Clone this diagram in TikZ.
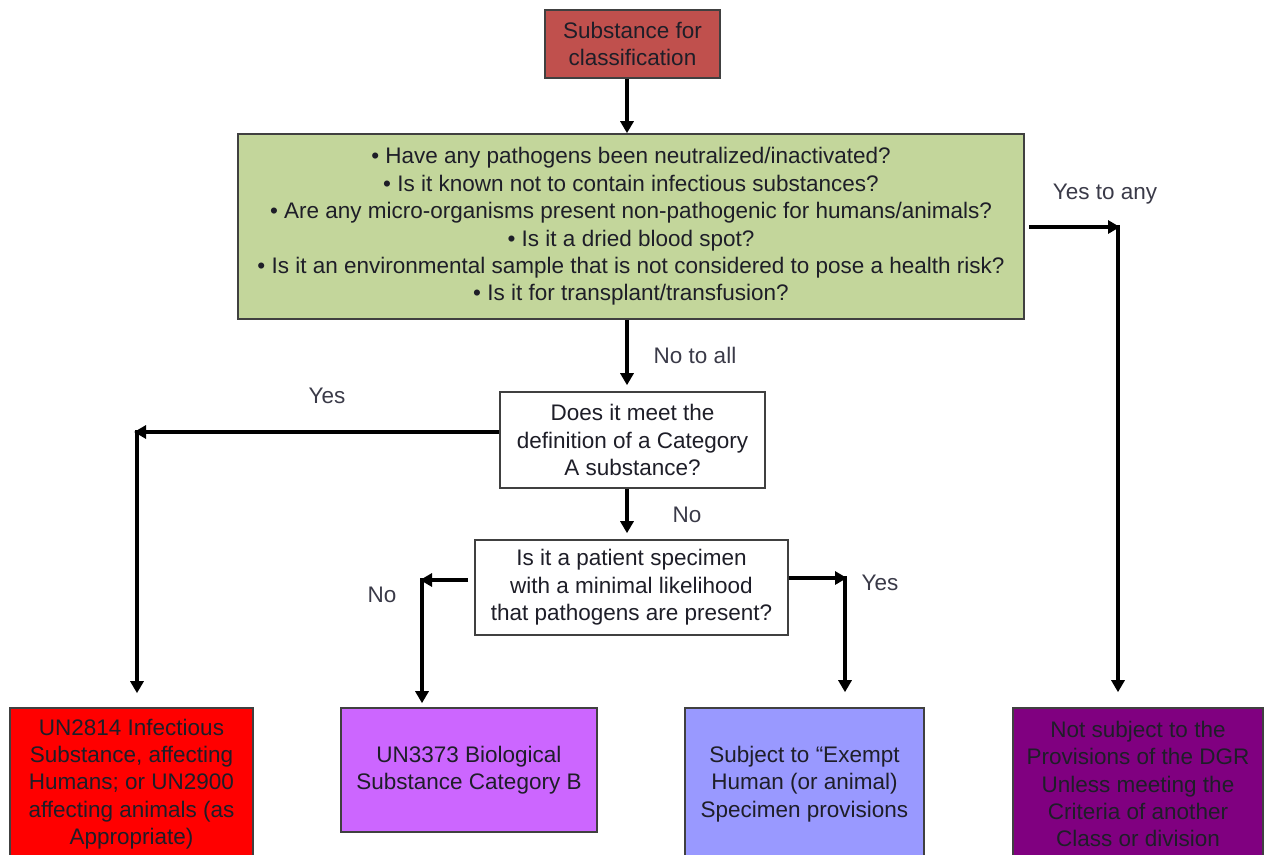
\documentclass[tikz,border=0pt]{standalone}
\usepackage{fontspec}
\setmainfont{Liberation Sans}
\usetikzlibrary{arrows.meta,calc}
\definecolor{topred}{HTML}{C0504D}
\definecolor{lgreen}{HTML}{C3D69B}
\definecolor{bred}{HTML}{FF0000}
\definecolor{lpurple}{HTML}{CC66FF}
\definecolor{lblue}{HTML}{9999FF}
\definecolor{dpurple}{HTML}{800080}
\definecolor{bordergray}{HTML}{404040}
\definecolor{txt}{HTML}{1E1E28}
\definecolor{lbl}{HTML}{3A3A48}
\begin{document}
\begin{tikzpicture}[x=1pt,y=-1pt,
  every node/.style={font=\fontsize{22.5}{27.4}\selectfont, text=txt},
  box/.style={draw=bordergray, line width=1.6pt, align=center, inner sep=0pt, anchor=center},
  arr/.style={line width=3.6pt, -{Triangle[length=12pt,width=13pt]}},
  lab/.style={text=lbl, inner sep=0pt, anchor=center}]
\useasboundingbox (0,0) rectangle (1266,854);
\begin{scope}
\clip (0,0) rectangle (1266,854);
\node[box, fill=topred, minimum width=175pt, minimum height=68pt] (top) at (632.5,44) {Substance for\\classification};
\node[box, fill=lgreen, minimum width=786pt, minimum height=185pt] (green) at (631,226.5)
 {\textbullet{} Have any pathogens been neutralized/inactivated?\\
  \textbullet{} Is it known not to contain infectious substances?\\
  \textbullet{} Are any micro-organisms present non-pathogenic for humans/animals?\\
  \textbullet{} Is it a dried blood spot?\\
  \textbullet{} Is it an environmental sample that is not considered to pose a health risk?\\
  \textbullet{} Is it for transplant/transfusion?};
\node[box, fill=white, minimum width=265pt, minimum height=96pt] (qa) at (632.5,440)
 {Does it meet the\\definition of a Category\\A substance?};
\node[box, fill=white, minimum width=313pt, minimum height=95pt] (qb) at (631.5,587.5)
 {Is it a patient specimen\\with a minimal likelihood\\that pathogens are present?};
\node[box, fill=bred, minimum width=243pt, minimum height=152pt] (un2814) at (131.5,784)
 {UN2814 Infectious\\Substance, affecting\\Humans; or UN2900\\affecting animals (as\\Appropriate)};
\node[box, fill=lpurple, minimum width=256pt, minimum height=124pt] (un3373) at (469,770)
 {UN3373 Biological\\Substance Category B};
\node[box, fill=lblue, minimum width=239pt, minimum height=152pt] (exempt) at (804.5,784)
 {Subject to “Exempt\\Human (or animal)\\Specimen provisions};
\node[box, fill=dpurple, minimum width=250pt, minimum height=152pt] (notsub) at (1138,784)
 {Not subject to the\\Provisions of the DGR\\Unless meeting the\\Criteria of another\\Class or division};
\end{scope}

\coordinate (cx) at (627,0);
\coordinate (ya) at (137,432);
\coordinate (nb) at (422,580);
\coordinate (yb) at (845,578);
\coordinate (yg) at (1118,227);

\draw[arr] (top.south -| cx) -- (green.north -| cx);
\draw[arr, shorten >=6pt] (green.south -| cx) -- (qa.north -| cx);
\draw[arr, shorten >=6pt] (qa.south -| cx) -- (qb.north -| cx);

\draw[arr] (qa.west |- ya) -- ($(ya)+(-3,0)$);
\draw[arr, shorten >=14pt] ($(ya)+(0,-1.8)$) -- (un2814.north -| ya);

\draw[arr] ($(qb.west |- nb)+(-6,0)$) -- ($(nb)+(-2,0)$);
\draw[arr, shorten >=4pt] ($(nb)+(0,-1.8)$) -- (un3373.north -| nb);

\draw[arr] (qb.east |- yb) -- ($(yb)+(2,0)$);
\draw[arr, shorten >=15pt] ($(yb)+(0,-1.8)$) -- (exempt.north -| yb);

\draw[arr] ($(green.east |- yg)+(4,0)$) -- ($(yg)+(2,0)$);
\draw[arr, shorten >=15pt] ($(yg)+(0,-1.8)$) -- (notsub.north -| yg);

\node[lab] (l1) at (1105,194) {Yes to any};
\node[lab] (l2) at (695,355) {No to all};
\node[lab] (l3) at (327,396) {Yes};
\node[lab] (l4) at (687,515) {No};
\node[lab] (l5) at (382,595) {No};
\node[lab] (l6) at (880,583) {Yes};
\end{tikzpicture}
\end{document}
